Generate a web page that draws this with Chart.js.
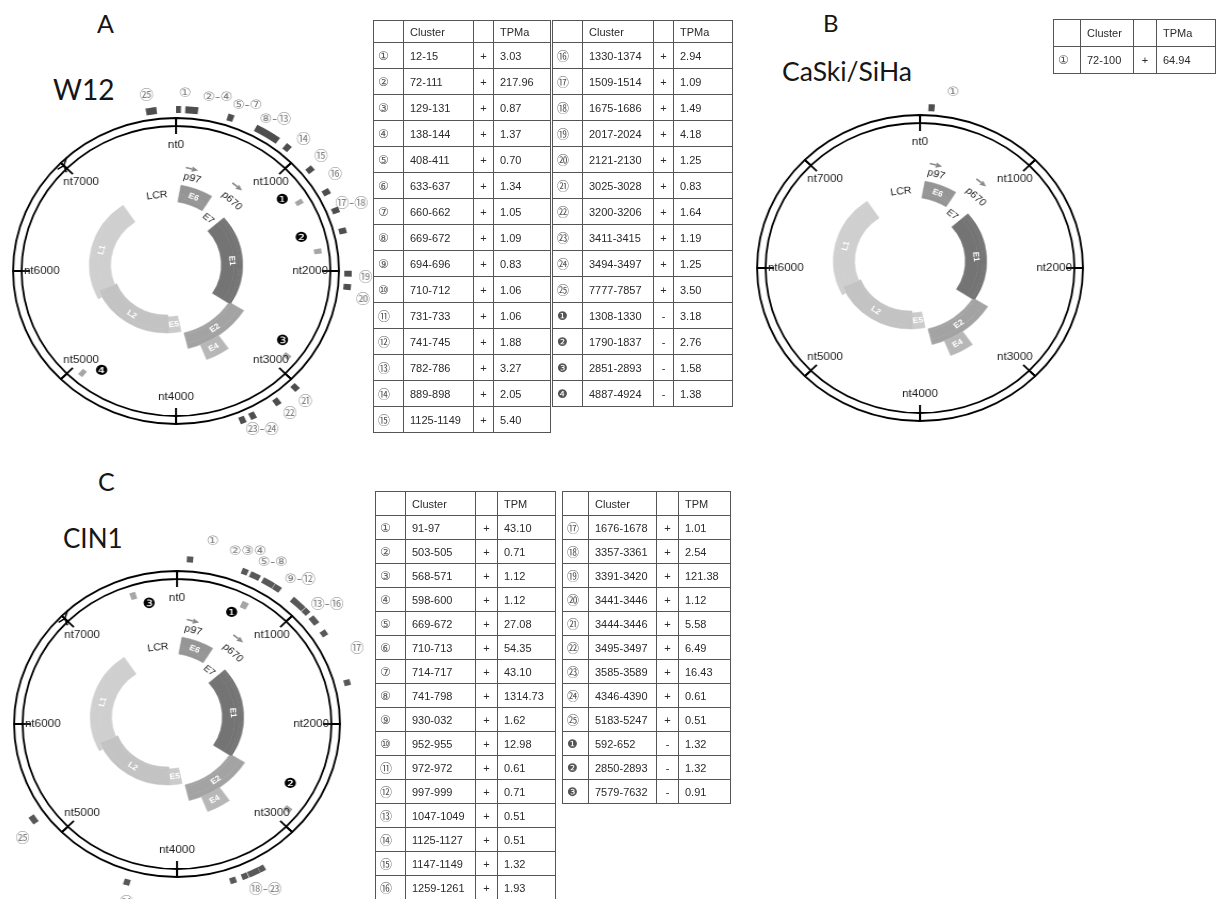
<!DOCTYPE html>
<html lang="en">
<head>
<meta charset="utf-8">
<title>HPV16 small RNA clusters</title>
<script src="https://cdn.jsdelivr.net/npm/chart.js@4.4.1/dist/chart.umd.min.js"></script>
<style>
  html, body { margin: 0; padding: 0; background: #fff; }
  body { width: 1218px; height: 899px; overflow: hidden; position: relative; font-family: "Liberation Sans", Arial, sans-serif; }
  .ttl { position: absolute; font-family: Lato, "Open Sans", sans-serif; line-height: 1; color: #161616; white-space: nowrap; }
  .map { position: absolute; transform: scaleX(1.065); }
  .map canvas { display: block; }
  .tbl { position: absolute; border-collapse: collapse; table-layout: fixed; font-size: 11px; color: #2a2a2a; }
  .tbl td { border: 1px solid #555; padding: 0 0 0 6px; white-space: nowrap; overflow: hidden; }
  .tbl td.n { font-family: "DejaVu Sans", "Noto Sans CJK JP", sans-serif; font-size: 12px; color: #555; padding-left: 4px; }
  .tbl td.s { text-align: center; padding: 0; }
</style>
</head>
<body>
<div class="ttl" style="left:97px;top:11px;font-size:25px">A</div>
<div class="ttl" style="left:53px;top:75px;font-size:28px">W12</div>
<div class="ttl" style="left:823px;top:11px;font-size:24px">B</div>
<div class="ttl" style="left:782px;top:58px;font-size:26.5px">CaSki/SiHa</div>
<div class="ttl" style="left:98px;top:469px;font-size:25px">C</div>
<div class="ttl" style="left:63px;top:525px;font-size:26px">CIN1</div>

<script>
// genome drawn as 8000 nt, ticks every 1000
const GENOME_NT = 8000;
const tickNames = ['nt0', 'nt1000', 'nt2000', 'nt3000', 'nt4000', 'nt5000', 'nt6000', 'nt7000'];
const tickNt = [0, 1000, 2000, 3000, 4000, 5000, 6000, 7000];

// gene arcs as they sit on the drawing (nt)
const geneNames = ['E6', 'E1', 'E2', 'E4', 'E5', 'L2', 'L1'];
const geneStart = [222, 1089, 2711, 3222, 3733, 3955, 5378];
const geneEnd = [711, 2733, 3689, 3511, 3955, 5511, 7244];

// other words on the gene map
const mapWords = ['E7', 'LCR', 'p97', 'p670'];
const mapWordNt = [900, 7845, 352, 977];
const promoterNt = [317, 900];

const plusGlyphs = ['①','②','③','④','⑤','⑥','⑦','⑧','⑨','⑩','⑪','⑫','⑬','⑭','⑮','⑯','⑰','⑱','⑲','⑳','㉑','㉒','㉓','㉔','㉕'];
const minusGlyphs = ['❶','❷','❸','❹'];

// A: W12
const w12PlusRanges = ['12-15','72-111','129-131','138-144','408-411','633-637','660-662','669-672','694-696','710-712',
  '731-733','741-745','782-786','889-898','1125-1149','1330-1374','1509-1514','1675-1686','2017-2024','2121-2130',
  '3025-3028','3200-3206','3411-3415','3494-3497','7777-7857'];
const w12PlusTpm = [3.03, 217.96, 0.87, 1.37, 0.70, 1.34, 1.05, 1.09, 0.83, 1.06, 1.06, 1.88, 3.27, 2.05, 5.40,
  2.94, 1.09, 1.49, 4.18, 1.25, 0.83, 1.64, 1.19, 1.25, 3.50];
const w12MinusRanges = ['1308-1330','1790-1837','2851-2893','4887-4924'];
const w12MinusTpm = [3.18, 2.76, 1.58, 1.38];
const w12PlusTags = ['㉕','①','②-④','⑤-⑦','⑧-⑬','⑭','⑮','⑯','⑰-⑱','⑲','⑳','㉑','㉒','㉓-㉔'];
const w12PlusTagNt = [7800, 62, 282, 491, 702, 940, 1109, 1271, 1507, 2044, 2209, 3044, 3179, 3400];
const w12MinusTagNt = [1218, 1656, 2778, 4778];

// B: CaSki/SiHa
const caskiPlusRanges = ['72-100'];
const caskiPlusTpm = [64.94];
const caskiMinusRanges = [];
const caskiMinusTpm = [];
const caskiPlusTags = ['①'];
const caskiPlusTagNt = [223];
const caskiMinusTagNt = [];

// C: CIN1
const cinPlusRanges = ['91-97','503-505','568-571','598-600','669-672','710-713','714-717','741-798','930-032','952-955',
  '972-972','997-999','1047-1049','1125-1127','1147-1149','1259-1261','1676-1678','3357-3361','3391-3420','3441-3446',
  '3444-3446','3495-3497','3585-3589','4346-4390','5183-5247'];
const cinPlusTpm = [43.10, 0.71, 1.12, 1.12, 27.08, 54.35, 43.10, 1314.73, 1.62, 12.98, 0.61, 0.71, 0.51, 0.51, 1.32,
  1.93, 1.01, 2.54, 121.38, 1.12, 5.58, 6.49, 16.43, 0.61, 0.51];
const cinMinusRanges = ['592-652','2850-2893','7579-7632'];
const cinMinusTpm = [1.32, 1.32, 0.91];
const cinPlusTags = ['①','②③④','⑤-⑧','⑨-⑫','⑬-⑯','⑰','⑱-㉓','㉔','㉕'];
const cinPlusTagNt = [233, 467, 645, 858, 1105, 1467, 3409, 4330, 5147];
const cinMinusTagNt = [551, 2656, 7725];

// ---- looks ----
const CLEAR = 'rgba(0,0,0,0)';
const GENE_LOOK = {
  E6: { r: [64, 81], color: '#959595' },
  E1: { r: [52, 72], color: '#747474' },
  E2: { r: [70, 86], color: '#a3a3a3' },
  E4: { r: [86, 102], color: '#b7b7b7' },
  E5: { r: [52, 68], color: '#cbcbcb' },
  L2: { r: [50, 68], color: '#c3c3c3' },
  L1: { r: [52, 72], color: '#cfcfcf' }
};
const RING = { ring: [145, 153], minus: [131, 138], tickLabelR: 126, minusTagR: 122, tickInset: 8 };
const MARK_MIN_NT = 46;
const PANELS = [
  { cx: 176, cy: 271, gdy: -6, plus: [158, 165], tagR: 178, plusColor: '#4e4e4e', arrow: true,
    plusRanges: w12PlusRanges, minusRanges: w12MinusRanges, tags: w12PlusTags, tagNt: w12PlusTagNt, minusTagNt: w12MinusTagNt },
  { cx: 919.5, cy: 268, gdy: -7, plus: [157, 164], tagR: 178, plusColor: '#4e4e4e', arrow: false,
    plusRanges: caskiPlusRanges, minusRanges: caskiMinusRanges, tags: caskiPlusTags, tagNt: caskiPlusTagNt, minusTagNt: caskiMinusTagNt },
  { cx: 176.5, cy: 723.5, gdy: -7, plus: [162, 168], tagR: 185, plusColor: '#585858', arrow: true,
    plusRanges: cinPlusRanges, minusRanges: cinMinusRanges, tags: cinPlusTags, tagNt: cinPlusTagNt, minusTagNt: cinMinusTagNt }
];

function parseRange(s) {
  const [a, b] = s.split('-').map(Number);
  return [a, b < a ? a : b];
}

// clusters are too short to see, so widen each to a small block and join the ones that touch
function markerRing(ranges, color) {
  const spans = ranges.map(parseRange).map(([a, b]) => {
    const mid = (a + b) / 2, half = Math.max(b - a, MARK_MIN_NT) / 2;
    return [Math.max(0, mid - half), Math.min(GENOME_NT, mid + half)];
  }).sort((p, q) => p[0] - q[0]);
  const merged = [];
  spans.forEach(sp => {
    const last = merged[merged.length - 1];
    if (last && sp[0] < last[1]) last[1] = Math.max(last[1], sp[1]);
    else merged.push(sp.slice());
  });
  const data = [], colors = [];
  let pos = 0;
  merged.forEach(([s, e]) => {
    if (s > pos) { data.push(s - pos); colors.push(CLEAR); }
    data.push(e - s); colors.push(color);
    pos = e;
  });
  if (pos < GENOME_NT) { data.push(GENOME_NT - pos); colors.push(CLEAR); }
  return { data, backgroundColor: colors, borderWidth: 0 };
}

// one doughnut ring per radial band, each gene shows up in the bands it covers
function geneRings() {
  const bounds = [...new Set(geneNames.flatMap(g => GENE_LOOK[g].r))].sort((a, b) => b - a);
  const rings = [];
  for (let i = 0; i < bounds.length - 1; i++) {
    const hi = bounds[i], lo = bounds[i + 1];
    const inBand = geneNames.map((g, k) => k)
      .filter(k => GENE_LOOK[geneNames[k]].r[0] <= lo && GENE_LOOK[geneNames[k]].r[1] >= hi)
      .sort((a, b) => geneStart[a] - geneStart[b]);
    const data = [], colors = [];
    let pos = 0;
    inBand.forEach(k => {
      const s = Math.max(geneStart[k], pos), e = geneEnd[k];
      if (e <= s) return;
      if (s > pos) { data.push(s - pos); colors.push(CLEAR); }
      data.push(e - s); colors.push(GENE_LOOK[geneNames[k]].color);
      pos = e;
    });
    if (pos < GENOME_NT) { data.push(GENOME_NT - pos); colors.push(CLEAR); }
    rings.push({ data, backgroundColor: colors, borderColor: colors, borderWidth: 0.6, weight: hi - lo });
  }
  return { rings, outer: bounds[0], inner: bounds[bounds.length - 1] };
}

// words, tick extensions and promoter arrows around the rings
const ringNotes = {
  id: 'ringNotes',
  afterDatasetsDraw(chart, args, opts) {
    const first = chart.getDatasetMeta(0).data[0];
    if (!first) return;
    const ctx = chart.ctx, cx = first.x, cy = first.y;
    const at = (nt, r) => {
      const a = nt / GENOME_NT * 2 * Math.PI - Math.PI / 2;
      return [cx + r * Math.cos(a), cy + r * Math.sin(a), a];
    };
    if (opts.tickDataset !== undefined) {
      ctx.save();
      ctx.strokeStyle = '#000';
      ctx.lineWidth = 1.8;
      chart.getDatasetMeta(opts.tickDataset).data.forEach(el => {
        const r0 = el.innerRadius - opts.tickInset, r1 = el.outerRadius;
        const c = Math.cos(el.startAngle), s = Math.sin(el.startAngle);
        ctx.beginPath();
        ctx.moveTo(cx + r0 * c, cy + r0 * s);
        ctx.lineTo(cx + r1 * c, cy + r1 * s);
        ctx.stroke();
      });
      ctx.restore();
    }
    (opts.arrows || []).forEach(it => {
      const [x, y, a] = at(it.nt, it.r);
      ctx.save();
      ctx.translate(x, y);
      ctx.rotate(a + Math.PI / 2 + (it.turn || 0));
      ctx.fillStyle = it.color;
      ctx.strokeStyle = it.color;
      ctx.lineWidth = it.lw || 1.5;
      ctx.beginPath();
      ctx.moveTo(-it.size, 0);
      ctx.lineTo(0, 0);
      ctx.stroke();
      if (it.open) {
        ctx.beginPath();
        ctx.moveTo(it.size * 0.6, -it.size * 0.5);
        ctx.lineTo(0, 0);
        ctx.lineTo(it.size * 0.6, it.size * 0.5);
        ctx.stroke();
      } else {
        ctx.beginPath();
        ctx.moveTo(0, -it.size * 0.45);
        ctx.lineTo(it.size, 0);
        ctx.lineTo(0, it.size * 0.45);
        ctx.closePath();
        ctx.fill();
      }
      ctx.restore();
    });
    (opts.items || []).forEach(it => {
      const [x, y] = at(it.nt, it.r);
      ctx.save();
      ctx.translate(x, y);
      if (it.rotate) {
        let deg = it.nt / GENOME_NT * 360;
        if (deg > 90 && deg < 270) deg -= 180;
        ctx.rotate(deg * Math.PI / 180);
      }
      ctx.font = it.font;
      ctx.fillStyle = it.color;
      ctx.textAlign = 'center';
      ctx.textBaseline = 'middle';
      ctx.fillText(it.text, 0, 0);
      ctx.restore();
    });
  }
};
Chart.register(ringNotes);

const baseOptions = {
  responsive: false,
  animation: false,
  events: [],
  plugins: { legend: { display: false }, tooltip: { enabled: false } }
};

function addCanvas(left, top, size) {
  const wrap = document.createElement('div');
  wrap.className = 'map';
  wrap.style.left = left + 'px';
  wrap.style.top = top + 'px';
  wrap.style.width = size + 'px';
  wrap.style.height = size + 'px';
  const cv = document.createElement('canvas');
  cv.width = size;
  cv.height = size;
  wrap.appendChild(cv);
  document.body.appendChild(wrap);
  return cv;
}

function drawGenome(p) {
  const S = 470;
  const cv = addCanvas(p.cx - S / 2, p.cy - S / 2, S);
  const outerR = p.plus[1], innerR = RING.minus[0];
  const spacer = w => ({ data: [GENOME_NT], backgroundColor: [CLEAR], borderWidth: 0, weight: w });
  const plusRing = markerRing(p.plusRanges, p.plusColor);
  plusRing.weight = p.plus[1] - p.plus[0];
  const minusRing = markerRing(p.minusRanges, '#a6a6a6');
  minusRing.weight = RING.minus[1] - RING.minus[0];
  const genomeRing = {
    data: tickNt.map((t, i) => (i < tickNt.length - 1 ? tickNt[i + 1] : GENOME_NT) - t),
    backgroundColor: '#fff', borderColor: '#000', borderWidth: 1.8,
    weight: RING.ring[1] - RING.ring[0]
  };
  const items = [];
  tickNames.forEach((t, i) => items.push({ text: t, nt: tickNt[i], r: RING.tickLabelR, font: '11px "Liberation Sans", Arial', color: '#1e1e1e' }));
  p.tags.forEach((t, i) => items.push({ text: t, nt: p.tagNt[i], r: p.tagR, font: '13px "DejaVu Sans", "Noto Sans CJK JP"', color: '#808080' }));
  p.minusTagNt.forEach((nt, i) => items.push({ text: minusGlyphs[i], nt, r: RING.minusTagR, font: '14px "DejaVu Sans"', color: '#000' }));
  const arrows = p.arrow ? [{ nt: 7000, r: 149, size: 9, color: '#000', open: true, lw: 1.4, turn: Math.PI * 0.85 }] : [];

  new Chart(cv, {
    type: 'doughnut',
    data: { datasets: [plusRing, spacer(p.plus[0] - RING.ring[1]), genomeRing, spacer(RING.ring[0] - RING.minus[1]), minusRing] },
    options: Object.assign({}, baseOptions, {
      radius: outerR,
      cutout: (innerR / outerR * 100) + '%',
      plugins: Object.assign({}, baseOptions.plugins, {
        ringNotes: { tickDataset: 2, tickInset: RING.tickInset, items, arrows }
      })
    })
  });
}

function drawGenes(p) {
  const S = 250;
  const gx = p.cx - 10, gy = p.cy + p.gdy;
  const cv = addCanvas(gx - S / 2, gy - S / 2, S);
  const g = geneRings();
  const items = geneNames.map((name, k) => ({
    text: name, nt: (geneStart[k] + geneEnd[k]) / 2,
    r: (GENE_LOOK[name].r[0] + GENE_LOOK[name].r[1]) / 2,
    font: 'bold 8px "Liberation Sans", Arial', color: '#fff', rotate: true
  }));
  const wordLook = [
    { r: 61, font: '9px "Liberation Sans", Arial' },
    { r: 70, font: '10px "Liberation Sans", Arial' },
    { r: 90, font: '10px "Liberation Sans", Arial' },
    { r: 89, font: '10px "Liberation Sans", Arial' }
  ];
  mapWords.forEach((w, i) => items.push({ text: w, nt: mapWordNt[i], r: wordLook[i].r, font: wordLook[i].font, color: '#222', rotate: true }));
  const arrowR = [99, 103];
  const arrows = promoterNt.map((nt, i) => ({ nt, r: arrowR[i], size: 6, color: '#8a8a8a', lw: 1.6 }));

  new Chart(cv, {
    type: 'doughnut',
    data: { datasets: g.rings },
    options: Object.assign({}, baseOptions, {
      radius: g.outer,
      cutout: (g.inner / g.outer * 100) + '%',
      plugins: Object.assign({}, baseOptions.plugins, { ringNotes: { items, arrows } })
    })
  });
}

PANELS.forEach(p => { drawGenome(p); drawGenes(p); });

// ---- tables ----
function buildTable(left, top, colW, headH, rowH, valueHead, rows) {
  const t = document.createElement('table');
  t.className = 'tbl';
  t.style.left = left + 'px';
  t.style.top = top + 'px';
  t.style.width = colW.reduce((a, b) => a + b, 0) + 'px';
  let html = '<colgroup>' + colW.map(w => `<col style="width:${w}px">`).join('') + '</colgroup>';
  html += `<tr style="height:${headH}px"><td></td><td>Cluster</td><td></td><td>${valueHead}</td></tr>`;
  rows.forEach(r => {
    html += `<tr style="height:${rowH}px"><td class="n">${r[0]}</td><td>${r[1]}</td><td class="s">${r[2]}</td><td>${r[3]}</td></tr>`;
  });
  t.innerHTML = html;
  document.body.appendChild(t);
}

const rowsOf = (glyphs, ranges, sign, values, from, to) =>
  ranges.slice(from, to).map((r, i) => [glyphs[from + i], r, sign, values[from + i].toFixed(2)]);

buildTable(373, 20, [30, 70, 20, 57], 22, 26, 'TPMa', rowsOf(plusGlyphs, w12PlusRanges, '+', w12PlusTpm, 0, 15));
buildTable(552, 20, [30, 71, 20, 59], 22, 26, 'TPMa',
  rowsOf(plusGlyphs, w12PlusRanges, '+', w12PlusTpm, 15, 25).concat(rowsOf(minusGlyphs, w12MinusRanges, '-', w12MinusTpm, 0, 4)));
buildTable(1053, 19, [27, 53, 23, 59], 27, 27, 'TPMa', rowsOf(plusGlyphs, caskiPlusRanges, '+', caskiPlusTpm, 0, 1));
buildTable(375, 491, [30, 70, 22, 58], 24, 24, 'TPM', rowsOf(plusGlyphs, cinPlusRanges, '+', cinPlusTpm, 0, 16));
buildTable(562, 491, [26, 68, 22, 52], 24, 24, 'TPM',
  rowsOf(plusGlyphs, cinPlusRanges, '+', cinPlusTpm, 16, 25).concat(rowsOf(minusGlyphs, cinMinusRanges, '-', cinMinusTpm, 0, 3)));
</script>
</body>
</html>
